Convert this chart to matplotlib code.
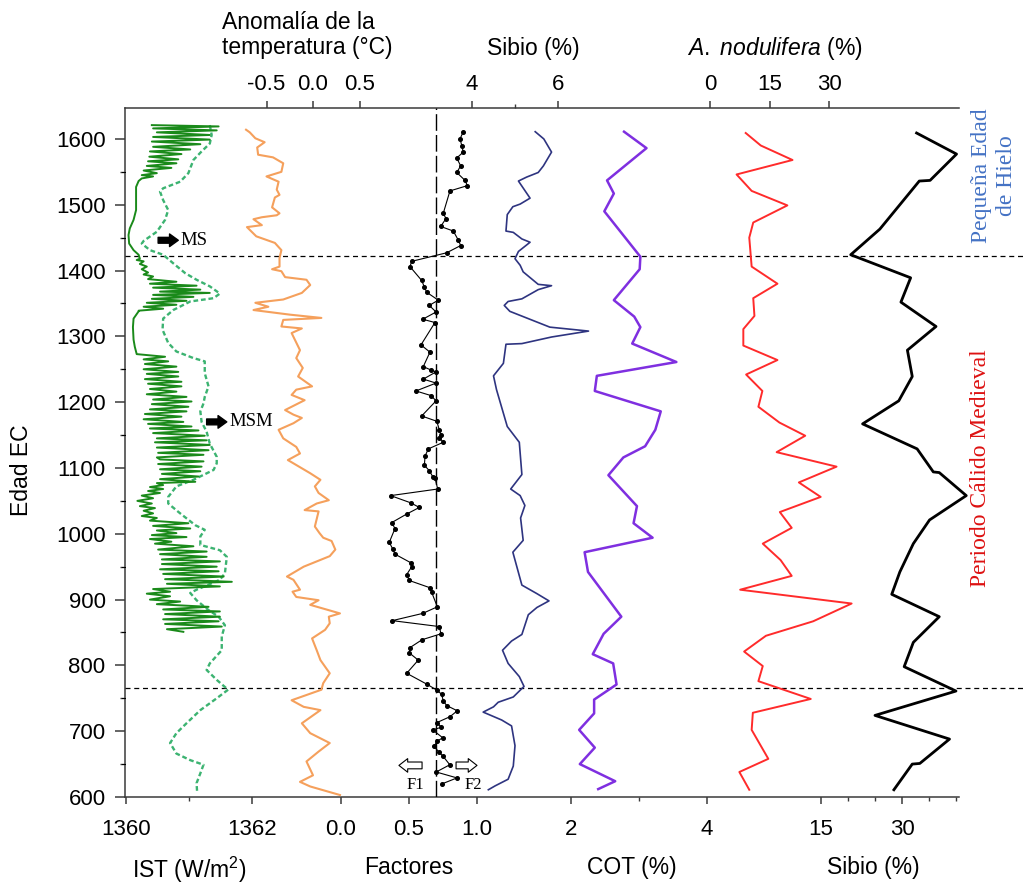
import matplotlib.pyplot as plt
import matplotlib.transforms as mtransforms
from matplotlib.ticker import MultipleLocator

plt.rcParams['font.family'] = ['Liberation Sans', 'DejaVu Sans']
plt.rcParams['axes.unicode_minus'] = False
plt.rcParams['mathtext.fontset'] = 'custom'
plt.rcParams['mathtext.rm'] = 'Liberation Sans'
plt.rcParams['mathtext.it'] = 'Liberation Sans:italic'
SERIF = ['Liberation Serif', 'DejaVu Serif']

# ---- registros (edad EC, valor) ----
# irradiancia solar total, serie anual (W/m2)
ist_anual = [
    (1621, 1360.41), (1619, 1361.47), (1616, 1360.43), (1613, 1361.44), (1610, 1360.49),
    (1606, 1361.33), (1603, 1360.43), (1599, 1361.33), (1596, 1360.41), (1592, 1361.18),
    (1588, 1360.43), (1584, 1361.02), (1581, 1360.38), (1577, 1360.88), (1573, 1360.37),
    (1569, 1360.83), (1566, 1360.35), (1563, 1360.80), (1559, 1360.33), (1556, 1360.72),
    (1552, 1360.28), (1548, 1360.49), (1545, 1360.25), (1543, 1360.43),
    (1540, 1360.25), (1536, 1360.20), (1527, 1360.16), (1492, 1360.16), (1477, 1360.12),
    (1464, 1360.06), (1454, 1360.04), (1441, 1360.05), (1431, 1360.12), (1424, 1360.20),
    (1418, 1360.22),
    (1416, 1360.17), (1414, 1360.28), (1410, 1360.22), (1406, 1360.33), (1402, 1360.25),
    (1397, 1360.35), (1394, 1360.28), (1391, 1360.43), (1387, 1360.35), (1383, 1360.80),
    (1380, 1360.38), (1377, 1361.12), (1374, 1360.43), (1371, 1361.18), (1368, 1360.54),
    (1366, 1361.33), (1363, 1360.43), (1360, 1361.07), (1357, 1360.41), (1354, 1360.96),
    (1351, 1360.33), (1348, 1360.80), (1345, 1360.28), (1342, 1360.59), (1339, 1360.20),
    (1338, 1360.20), (1327, 1360.12), (1314, 1360.11), (1295, 1360.12), (1284, 1360.14),
    (1273, 1360.17), (1269, 1360.62), (1265, 1360.28), (1262, 1360.67), (1258, 1360.30),
    (1254, 1360.80), (1250, 1360.28), (1246, 1360.83), (1243, 1360.33), (1239, 1360.83),
    (1235, 1360.30), (1231, 1360.88), (1228, 1360.35), (1224, 1360.88), (1220, 1360.38),
    (1216, 1360.80), (1212, 1360.33), (1208, 1360.96), (1204, 1360.43), (1201, 1361.04),
    (1197, 1360.41), (1193, 1360.99), (1189, 1360.38), (1186, 1360.96), (1182, 1360.30),
    (1178, 1360.88), (1174, 1360.28), (1170, 1360.91), (1167, 1360.35), (1163, 1361.04),
    (1160, 1360.38), (1157, 1361.15), (1153, 1360.43), (1149, 1361.25), (1145, 1360.49),
    (1142, 1361.28), (1139, 1360.46), (1135, 1361.33), (1131, 1360.49), (1127, 1361.31),
    (1123, 1360.51), (1120, 1361.23), (1116, 1360.49),
    (1113, 1360.54), (1110, 1361.23), (1106, 1360.51), (1102, 1361.20), (1098, 1360.54),
    (1095, 1361.18), (1091, 1360.57), (1087, 1361.15), (1083, 1360.54), (1079, 1361.10),
    (1077, 1360.49), (1074, 1360.59), (1071, 1360.38), (1068, 1360.59), (1065, 1360.35),
    (1062, 1360.54), (1058, 1360.25), (1054, 1360.43), (1050, 1360.18), (1046, 1360.41),
    (1042, 1360.22), (1039, 1360.46), (1035, 1360.28), (1031, 1360.43), (1027, 1360.25),
    (1024, 1360.49), (1020, 1360.38), (1016, 1360.99), (1012, 1360.43), (1008, 1361.02),
    (1005, 1360.49), (1001, 1360.80), (998, 1360.41), (995, 1360.96), (992, 1360.38),
    (988, 1360.72), (985, 1360.46), (981, 1361.07), (976, 1360.51), (973, 1361.28),
    (969, 1360.54), (965, 1361.28), (961, 1360.57), (958, 1361.49), (954, 1360.57),
    (950, 1361.44), (946, 1360.54), (943, 1361.47), (939, 1360.59), (935, 1361.55),
    (931, 1360.62), (927, 1361.68), (924, 1360.65), (920, 1361.49), (916, 1360.43),
    (912, 1360.70), (909, 1360.33), (905, 1360.70), (900, 1360.38), (897, 1360.86),
    (893, 1360.49), (889, 1361.31), (885, 1360.59), (882, 1361.49), (878, 1360.62),
    (874, 1361.49), (870, 1360.59), (867, 1361.47), (863, 1360.62), (859, 1361.52),
    (855, 1360.65), (851, 1360.91),
]

# irradiancia solar total, curva suavizada (W/m2)
ist_suave = [
    (1621, 1361.33), (1606, 1361.36), (1593, 1361.33), (1581, 1361.20), (1568, 1361.07),
    (1548, 1360.99), (1535, 1360.86), (1525, 1360.59), (1520, 1360.54), (1507, 1360.59),
    (1492, 1360.67), (1477, 1360.62), (1459, 1360.49), (1445, 1360.28), (1441, 1360.25),
    (1431, 1360.38), (1424, 1360.59), (1411, 1360.75), (1396, 1360.94), (1386, 1361.12),
    (1376, 1361.33), (1365, 1361.49), (1358, 1361.39), (1353, 1361.02), (1340, 1360.75),
    (1327, 1360.59), (1310, 1360.58), (1290, 1360.67), (1277, 1360.80), (1267, 1361.07),
    (1262, 1361.25), (1244, 1361.25), (1224, 1361.31), (1208, 1361.25), (1198, 1361.23),
    (1186, 1361.18), (1170, 1361.20), (1155, 1361.28), (1137, 1361.33), (1117, 1361.44),
    (1107, 1361.44), (1097, 1361.39), (1082, 1361.07), (1072, 1360.80), (1056, 1360.67),
    (1046, 1360.67), (1031, 1360.86), (1013, 1361.10), (1006, 1361.25), (996, 1361.18),
    (983, 1361.18), (975, 1361.49), (965, 1361.60), (940, 1361.57), (930, 1361.49),
    (915, 1361.12), (910, 1361.02), (899, 1361.12), (884, 1361.31), (874, 1361.47),
    (861, 1361.57), (844, 1361.52), (823, 1361.52), (803, 1361.33), (793, 1361.28),
    (778, 1361.44), (763, 1361.62), (750, 1361.44), (732, 1361.18), (712, 1360.96),
    (697, 1360.80), (682, 1360.70), (666, 1360.80), (656, 1361.02), (649, 1361.23),
    (636, 1361.18), (621, 1361.12), (606, 1361.13),
]

# anomalia de la temperatura (°C)
temperatura = [
    (1614, -0.72), (1610, -0.68), (1601, -0.62), (1595, -0.52), (1587, -0.60),
    (1576, -0.59), (1572, -0.43), (1563, -0.32), (1550, -0.34), (1543, -0.50),
    (1535, -0.37), (1523, -0.39), (1515, -0.36), (1511, -0.41), (1496, -0.44),
    (1487, -0.36), (1484, -0.39), (1481, -0.55), (1478, -0.64), (1469, -0.55),
    (1466, -0.71), (1452, -0.61), (1442, -0.41), (1431, -0.34), (1419, -0.36),
    (1406, -0.36), (1402, -0.44), (1399, -0.34), (1390, -0.30), (1386, -0.07),
    (1378, -0.03), (1366, -0.12), (1356, -0.32), (1351, -0.62), (1345, -0.48),
    (1340, -0.64), (1333, -0.25), (1328, 0.09), (1325, -0.32), (1315, -0.34),
    (1312, -0.12), (1305, -0.23), (1279, -0.14), (1267, -0.18), (1252, -0.11),
    (1239, -0.16), (1224, -0.01), (1219, -0.18), (1211, -0.23), (1203, -0.09),
    (1188, -0.30), (1181, -0.21), (1176, -0.12), (1168, -0.21), (1158, -0.37),
    (1145, -0.32), (1132, -0.18), (1122, -0.14), (1112, -0.27), (1092, -0.03),
    (1082, 0.08), (1072, 0.02), (1062, 0.06), (1051, 0.17), (1046, 0.04),
    (1036, -0.09), (1034, 0.06), (1011, 0.02), (1001, 0.07), (994, 0.11),
    (989, 0.20), (976, 0.24), (966, 0.18), (950, -0.10), (935, -0.28),
    (930, -0.21), (915, -0.14), (912, -0.22), (904, -0.18), (899, 0.06),
    (892, -0.03), (879, 0.29), (874, 0.17), (864, 0.18), (854, 0.13),
    (841, -0.01), (823, 0.04), (808, 0.08), (788, 0.18), (773, 0.11),
    (763, 0.09), (747, -0.23), (737, -0.10), (732, 0.08), (712, -0.12),
    (697, -0.03), (682, 0.18), (669, 0.06), (654, -0.07), (633, 0.00),
    (623, -0.14), (616, -0.03), (603, 0.29),
]

# factores (cargas F1-F2)
factores = [
    (1611, 0.899), (1600, 0.875), (1590, 0.888), (1580, 0.899), (1571, 0.851),
    (1559, 0.880), (1549, 0.851), (1537, 0.912), (1529, 0.929), (1521, 0.801),
    (1487, 0.752), (1479, 0.772), (1467, 0.733), (1460, 0.826), (1446, 0.863),
    (1438, 0.880), (1427, 0.777), (1414, 0.520), (1406, 0.507), (1385, 0.593),
    (1375, 0.613), (1367, 0.630), (1355, 0.715), (1347, 0.649), (1337, 0.699),
    (1326, 0.601), (1321, 0.691), (1287, 0.588), (1276, 0.654), (1254, 0.605),
    (1249, 0.660), (1246, 0.699), (1235, 0.605), (1229, 0.699), (1217, 0.551),
    (1210, 0.662), (1202, 0.699), (1179, 0.593), (1171, 0.704), (1158, 0.723),
    (1150, 0.733), (1146, 0.723), (1139, 0.752), (1129, 0.642), (1118, 0.618),
    (1104, 0.613), (1096, 0.649), (1087, 0.674), (1085, 0.691), (1068, 0.711),
    (1058, 0.365), (1047, 0.513), (1040, 0.576), (1030, 0.483), (1017, 0.373),
    (1008, 0.397), (987, 0.355), (977, 0.380), (969, 0.397), (956, 0.513),
    (950, 0.520), (938, 0.483), (929, 0.502), (918, 0.654), (911, 0.667),
    (889, 0.708), (879, 0.601), (868, 0.377), (859, 0.723), (848, 0.735),
    (839, 0.596), (827, 0.507), (819, 0.502), (808, 0.568), (788, 0.483),
    (771, 0.635), (762, 0.708), (756, 0.740), (746, 0.752), (739, 0.777),
    (731, 0.855), (722, 0.801), (713, 0.704), (706, 0.738), (702, 0.674),
    (690, 0.748), (685, 0.708), (677, 0.684), (668, 0.721), (662, 0.750),
    (649, 0.800), (638, 0.700), (629, 0.853), (620, 0.743),
]

# silice biogenico, alta resolucion (%)
sibio_alta = [
    (1611, 5.47), (1600, 5.67), (1580, 5.85), (1559, 5.66), (1549, 5.54),
    (1542, 5.27), (1536, 5.08), (1510, 5.35), (1501, 5.12), (1497, 4.95),
    (1485, 4.82), (1460, 4.79), (1458, 4.96), (1448, 5.16), (1443, 5.35),
    (1429, 5.08), (1418, 5.00), (1408, 5.12), (1398, 5.19), (1379, 5.54),
    (1377, 5.85), (1371, 5.54), (1357, 5.16), (1353, 4.84), (1347, 4.75),
    (1338, 4.88), (1314, 5.81), (1308, 6.71), (1299, 5.85), (1289, 5.16),
    (1288, 4.79), (1259, 4.73), (1240, 4.50), (1219, 4.57), (1163, 4.82),
    (1139, 5.10), (1090, 5.16), (1068, 4.90), (1058, 5.12), (1043, 5.23),
    (1024, 5.13), (990, 5.19), (972, 4.95), (922, 5.16), (909, 5.51),
    (898, 5.79), (888, 5.51), (877, 5.31), (847, 5.16), (837, 4.92),
    (823, 4.71), (803, 4.84), (783, 5.10), (768, 5.21), (752, 4.96),
    (744, 4.61), (737, 4.50), (729, 4.26), (717, 4.69), (708, 4.92),
    (678, 5.00), (647, 4.96), (627, 4.84), (617, 4.54), (611, 4.38),
]

# carbono organico total (%)
cot = [
    (1611, 2.78), (1586, 3.11), (1537, 2.53), (1517, 2.63), (1490, 2.49),
    (1421, 3.02), (1402, 3.01), (1355, 2.63), (1330, 2.93), (1314, 3.02),
    (1289, 2.90), (1261, 3.55), (1240, 2.38), (1217, 2.35), (1186, 3.32),
    (1158, 3.24), (1133, 3.09), (1116, 2.77), (1089, 2.55), (1042, 2.97),
    (1016, 2.92), (994, 3.20), (972, 2.20), (942, 2.25), (874, 2.74),
    (848, 2.48), (817, 2.32), (803, 2.62), (771, 2.67), (748, 2.34),
    (727, 2.34), (702, 2.12), (675, 2.35), (650, 2.13), (624, 2.65),
    (612, 2.40),
]

# Azpeitia nodulifera (%)
nodulifera = [
    (1609, 9.0), (1590, 12.8), (1568, 20.8), (1546, 6.7), (1521, 10.5),
    (1499, 19.5), (1473, 10.9), (1450, 9.9), (1406, 10.5), (1380, 17.0),
    (1358, 10.9), (1331, 11.2), (1311, 8.4), (1286, 8.4), (1264, 17.0),
    (1242, 9.1), (1217, 13.2), (1193, 12.2), (1169, 17.5), (1149, 24.0),
    (1124, 16.8), (1102, 31.9), (1078, 22.4), (1056, 27.9), (1033, 17.6),
    (1009, 20.6), (985, 13.3), (960, 17.8), (936, 20.6), (915, 7.6),
    (894, 35.7), (867, 26.0), (845, 14.1), (821, 8.6), (799, 13.3),
    (776, 12.2), (749, 25.4), (728, 10.8), (702, 10.5), (658, 14.7),
    (638, 7.4), (611, 9.9),
]

# silice biogenico (%)
sibio = [
    (1609, 32.7), (1577, 40.1), (1537, 35.2), (1536, 33.2), (1463, 25.9),
    (1424, 20.5), (1389, 31.6), (1352, 29.8), (1315, 36.3), (1279, 31.0),
    (1239, 31.9), (1202, 29.4), (1167, 22.7), (1129, 32.8), (1094, 35.8),
    (1093, 36.9), (1058, 41.9), (1021, 35.1), (985, 32.1), (942, 29.6),
    (908, 28.1), (874, 36.9), (835, 32.1), (798, 30.4), (761, 40.0),
    (724, 25.0), (688, 38.8), (651, 33.3), (650, 31.9), (611, 28.5),
]

limite_peh = 1422      # Pequeña Edad de Hielo
limite_pcm = 765       # Periodo Cálido Medieval
umbral_factor = 0.7

# ---- figura ----
W, H = 1023, 888
fig = plt.figure(figsize=(W / 100, H / 100), dpi=100)
x0, x1, y0, y1 = 125, 959, 108, 797
rect = [x0 / W, 1 - y1 / H, (x1 - x0) / W, (y1 - y0) / H]
AX_COLOR = '#3a3a3a'


def px(x, y):
    return x / W, 1 - y / H


def span(ref_val, ref_px, px_per_unit):
    return (ref_val + (x0 - ref_px) / px_per_unit,
            ref_val + (x1 - ref_px) / px_per_unit)


host = fig.add_axes(rect)
host.set_ylim(600, 1647)
host.yaxis.set_major_locator(MultipleLocator(100))
host.yaxis.set_minor_locator(MultipleLocator(50))
host.set_xticks([])
host.spines['right'].set_visible(False)
for s in ('left', 'top', 'bottom'):
    host.spines[s].set_linewidth(1.1)
    host.spines[s].set_color(AX_COLOR)
host.tick_params(axis='y', which='major', direction='out', length=7, width=1.1,
                 pad=7, labelsize=16, color=AX_COLOR)
host.tick_params(axis='y', which='minor', direction='out', length=3.5, width=1.0,
                 color=AX_COLOR)


def panel(lims, side, major=(), minor=(), labels=None):
    ax = fig.add_axes(rect, sharey=host)
    ax.patch.set_visible(False)
    for s in ax.spines.values():
        s.set_visible(False)
    ax.set_xlim(*lims)
    ax.tick_params(axis='y', left=False, labelleft=False)
    if side == 'top':
        ax.xaxis.tick_top()
        pad = 4
    else:
        ax.xaxis.tick_bottom()
        pad = 11
    ax.set_xticks(list(major))
    if labels is not None:
        ax.set_xticklabels(labels)
    ax.set_xticks(list(minor), minor=True)
    ax.tick_params(axis='x', which='major', direction='out', length=5, width=1.1,
                   pad=pad, labelsize=16, color=AX_COLOR)
    ax.tick_params(axis='x', which='minor', direction='out', length=3, width=1.0,
                   color=AX_COLOR)
    return ax


def unzip(pairs):
    years, vals = zip(*pairs)
    return list(vals), list(years)


# IST
ax_ist = panel(span(1360, 126, 63), 'bottom', [1360, 1362], [1361])
ax_ist.plot(*unzip(ist_suave), color='#3cb371', lw=1.7, ls=(0, (2.0, 1.2)))
ax_ist.plot(*unzip(ist_anual), color='#1a8a1a', lw=1.4)

# temperatura
ax_t = panel(span(0.0, 313, 93), 'top', [-0.5, 0.0, 0.5], labels=['-0.5', '0.0', '0.5'])
ax_t.plot(*unzip(temperatura), color='#f5a05c', lw=1.5)

# factores
ax_f = panel(span(0.0, 341, 136), 'bottom', [0.0, 0.5, 1.0], labels=['0.0', '0.5', '1.0'])
ax_f.axvline(umbral_factor, color='black', lw=1.0, ls=(0, (12, 3)))
ax_f.plot(*unzip(factores), color='black', lw=0.8, marker='o', ms=2.6)

# sibio alta resolucion
ax_sa = panel(span(4, 472, 43), 'top', [4, 6], [5])
ax_sa.plot(*unzip(sibio_alta), color='#2e3480', lw=1.2)

# COT
ax_c = panel(span(2, 571, 68), 'bottom', [2, 4], [3])
ax_c.plot(*unzip(cot), color='#7f2fe0', lw=1.8)

# A. nodulifera
ax_n = panel(span(0, 710, 3.967), 'top', [0, 15, 30])
ax_n.plot(*unzip(nodulifera), color='#ff2b2b', lw=1.4)

# sibio
ax_s = panel(span(15, 821, 5.4), 'bottom', [15, 30], [20, 25, 35, 40])
ax_s.plot(*unzip(sibio), color='black', lw=2.0, clip_on=False)

# limites de los periodos
trans = mtransforms.blended_transform_factory(host.transAxes, host.transData)
xr = (W - x0) / (x1 - x0)
for yr in (limite_peh, limite_pcm):
    host.plot([0, xr], [yr, yr], transform=trans, color='black', lw=0.9,
              ls=(0, (4, 3)), clip_on=False, zorder=5)

# minimos solares
solid_arrow = dict(arrowstyle='simple,head_length=0.45,head_width=0.65,tail_width=0.3',
                   fc='black', ec='black', shrinkA=0, shrinkB=0, mutation_scale=14)
ax_ist.annotate('', xy=(1360.83, 1446), xytext=(1360.51, 1446), arrowprops=solid_arrow)
ax_ist.text(1360.87, 1446, 'MS', family=SERIF, fontsize=13.5, va='center', ha='left')
ax_ist.annotate('', xy=(1361.60, 1170), xytext=(1361.28, 1170), arrowprops=solid_arrow)
ax_ist.text(1361.64, 1170, 'MSM', family=SERIF, fontsize=13.5, va='center', ha='left')

# sentido de los factores
hollow_arrow = dict(arrowstyle='simple,head_length=0.45,head_width=0.7,tail_width=0.35',
                    fc='white', ec='black', lw=0.8, shrinkA=0, shrinkB=0, mutation_scale=14)
ax_f.annotate('', xy=(0.426, 648), xytext=(0.596, 648), arrowprops=hollow_arrow)
ax_f.annotate('', xy=(1.0, 648), xytext=(0.846, 648), arrowprops=hollow_arrow)
ax_f.text(0.544, 618, 'F1', family=SERIF, fontsize=12, ha='center', va='center')
ax_f.text(0.971, 618, 'F2', family=SERIF, fontsize=12, ha='center', va='center')

# titulos de ejes
lab = dict(fontsize=16.5, color='black')
fig.text(*px(222, 35), 'Anomalía de la\ntemperatura (°C)', ha='left', va='center',
         linespacing=1.15, **lab)
fig.text(*px(533, 48), 'Sibio (%)', ha='center', va='center', **lab)
fig.text(*px(775, 48), r'$\it{A.\ nodulifera}$ (%)', ha='center', va='center', **lab)
fig.text(*px(189, 870), r'IST (W/m$^{\mathrm{2}}$)', ha='center', va='center', **lab)
fig.text(*px(409, 867), 'Factores', ha='center', va='center', **lab)
fig.text(*px(632, 867), 'COT (%)', ha='center', va='center', **lab)
fig.text(*px(873, 867), 'Sibio (%)', ha='center', va='center', **lab)
fig.text(*px(22, 470), 'Edad EC', rotation=90, ha='center', va='center', **lab)

# periodos
fig.text(*px(994, 176), 'Pequeña Edad\nde Hielo', rotation=90, ha='center', va='center',
         multialignment='center', linespacing=1.3, family=SERIF, fontsize=17,
         color='#4472c4')
fig.text(*px(981, 468), 'Periodo Cálido Medieval', rotation=90, ha='center',
         va='center', family=SERIF, fontsize=17, color='#dd1111')

fig.savefig('out.png', dpi=100)
